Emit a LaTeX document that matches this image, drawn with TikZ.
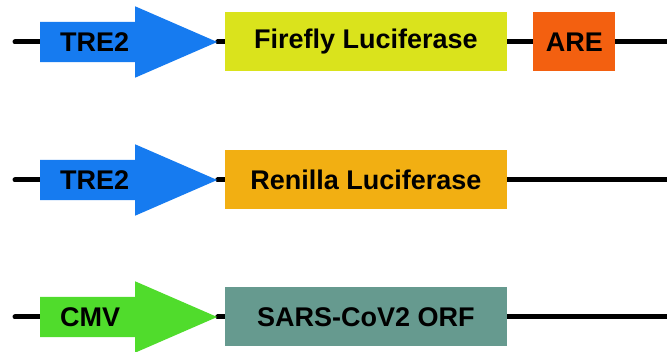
\documentclass[tikz,border=0pt]{standalone}
\usepackage{fontspec}
\setmainfont{Liberation Sans}
\usetikzlibrary{shapes.arrows, positioning, backgrounds}
\definecolor{promblue}{RGB}{22,123,240}
\definecolor{promgreen}{RGB}{80,220,44}
\definecolor{fireflyyellow}{RGB}{218,227,28}
\definecolor{areorange}{RGB}{243,96,16}
\definecolor{renillaamber}{RGB}{242,175,18}
\definecolor{orfteal}{RGB}{102,154,143}
\tikzset{
    promoter/.style={single arrow, draw=none, minimum width=71pt,
                     minimum height=177pt, single arrow head extend=15.5pt,
                     single arrow tip angle=47, inner xsep=0pt, inner ysep=20pt,
                     anchor=tail},
    promlabel/.style={inner sep=0pt, anchor=west,
                      font=\bfseries\fontsize{27}{30}\selectfont},
    gene/.style={rectangle, draw=none, minimum width=282pt, minimum height=59pt,
                 inner sep=0pt, text centered,
                 font=\bfseries\fontsize{27}{30}\selectfont},
    backbone/.style={line width=5pt, line cap=round, color=black}
}
\begin{document}
\begin{tikzpicture}[x=1pt, y=1pt]
    \useasboundingbox (0,0) rectangle (667,-352);

    % row coordinates
    \coordinate (start1) at (15,-42);
    \coordinate[below=138pt of start1] (start2);
    \coordinate[below=137pt of start2] (start3);
    \coordinate (end1) at (670,-42);
    \coordinate[below=138pt of end1] (end2);
    \coordinate[below=137pt of end2] (end3);

    % construct 1
    \node[promoter, fill=promblue, right=25pt of start1] (tre1) {};
    \node[promlabel, right=20pt of tre1.tail] (tre1label) {TRE2};
    \node[gene, fill=fireflyyellow, right=7pt of tre1.tip] (ffluc) {Firefly Luciferase};
    \node[gene, fill=areorange, minimum width=82pt, right=26pt of ffluc] (are) {ARE};

    % construct 2
    \node[promoter, fill=promblue, right=25pt of start2] (tre2) {};
    \node[promlabel, right=20pt of tre2.tail] (tre2label) {TRE2};
    \node[gene, fill=renillaamber, right=7pt of tre2.tip] (rluc) {Renilla Luciferase};

    % construct 3
    \node[promoter, fill=promgreen, right=25pt of start3] (cmv) {};
    \node[promlabel, right=20pt of cmv.tail] (cmvlabel) {CMV};
    \node[gene, fill=orfteal, right=7pt of cmv.tip] (orf) {SARS-CoV2 ORF};

    \begin{scope}[on background layer]
        \draw[backbone] (start1) -- (tre1.tail) (tre1.tip) -- (ffluc.west)
            (ffluc.east) -- (are.west) (are.east) -- (end1);
        \draw[backbone] (start2) -- (tre2.tail) (tre2.tip) -- (rluc.west)
            (rluc.east) -- (end2);
        \draw[backbone] (start3) -- (cmv.tail) (cmv.tip) -- (orf.west)
            (orf.east) -- (end3);
    \end{scope}
\end{tikzpicture}
\end{document}
